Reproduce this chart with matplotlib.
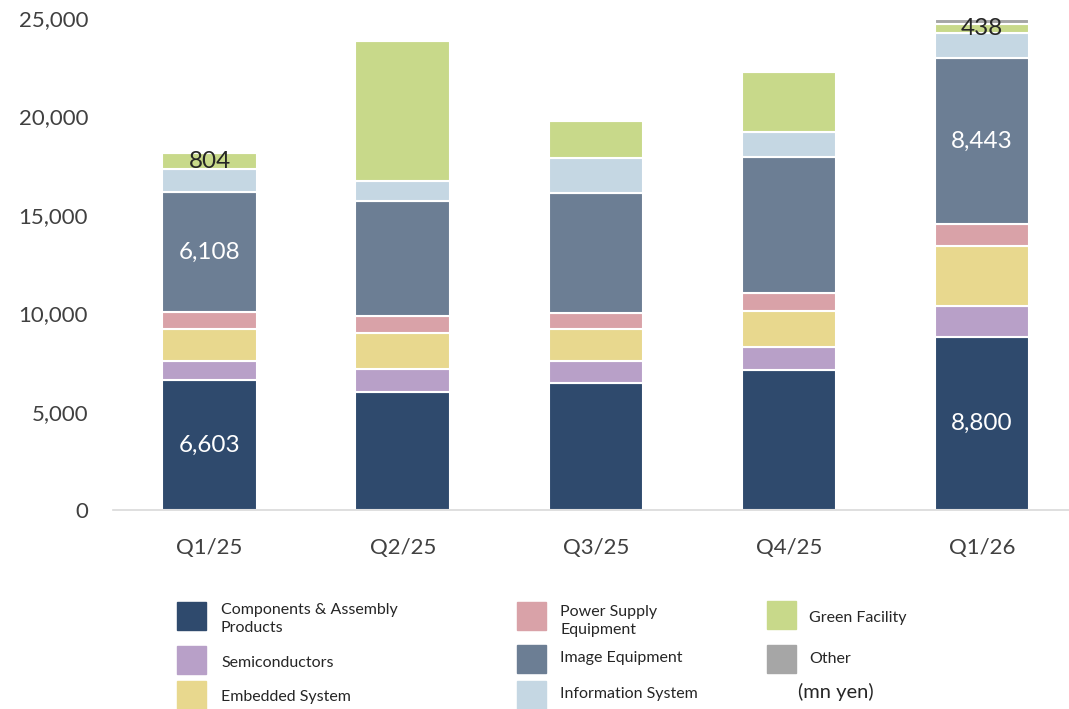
import matplotlib
matplotlib.use('Agg')
import matplotlib.pyplot as plt
from matplotlib.patches import Rectangle
import numpy as np

plt.rcParams['font.family'] = ['Lato', 'DejaVu Sans']

quarters = ['Q1/25', 'Q2/25', 'Q3/25', 'Q4/25', 'Q1/26']

# segment values (mn yen), bottom to top
components = [6603, 6000, 6450, 7110, 8800]
semiconductors = [970, 1160, 1120, 1170, 1570]
embedded = [1630, 1830, 1630, 1830, 3040]
power_supply = [860, 870, 810, 920, 1120]
image_equip = [6108, 5840, 6100, 6910, 8443]
info_system = [1160, 1020, 1780, 1260, 1270]
green_facility = [804, 7110, 1880, 3060, 438]
other = [0, 0, 0, 0, 250]

series = [
    ('Components & Assembly\nProducts', components, '#2F4A6D'),
    ('Semiconductors', semiconductors, '#B8A0C8'),
    ('Embedded System', embedded, '#E8D88E'),
    ('Power Supply\nEquipment', power_supply, '#D9A2A8'),
    ('Image Equipment', image_equip, '#6C7E94'),
    ('Information System', info_system, '#C5D7E3'),
    ('Green Facility', green_facility, '#C8D98A'),
    ('Other', other, '#A6A6A6'),
]

# which bars get value labels: (series index, bar index, text colour)
labelled = [(0, 0, 'white'), (4, 0, 'white'), (6, 0, '#262626'),
            (0, 4, 'white'), (4, 4, 'white'), (6, 4, '#262626')]

W, H = 1069, 709
fig = plt.figure(figsize=(W / 100, H / 100), dpi=100)
ax = fig.add_axes([113 / W, 1 - 510 / H, (1069 - 113) / W, (510 - 18) / H])

x = np.arange(len(quarters))
bottom = np.zeros(len(quarters))
bars_by_series = []
for name, vals, col in series:
    vals = np.array(vals, dtype=float)
    ax.bar(x, vals, 0.49, bottom=bottom, color=col, edgecolor='white',
           linewidth=1.5, clip_on=False)
    bars_by_series.append((vals, bottom.copy()))
    bottom += vals

for si, bi, tc in labelled:
    vals, bot = bars_by_series[si]
    ax.text(x[bi], bot[bi] + vals[bi] / 2, f'{int(vals[bi]):,}', ha='center',
            va='center', color=tc, fontsize=17.5)

ax.set_xlim(-0.5, 4.45)
ax.set_ylim(0, 25000)
ax.set_yticks(np.arange(0, 25001, 5000))
ax.yaxis.set_major_formatter(matplotlib.ticker.FuncFormatter(lambda v, p: f'{int(v):,}'))
ax.set_xticks(x)
ax.set_xticklabels(quarters)
for s in ['top', 'right', 'left']:
    ax.spines[s].set_visible(False)
ax.spines['bottom'].set_color('#D9D9D9')
ax.spines['bottom'].set_linewidth(1.2)
ax.tick_params(axis='y', length=0, pad=18, labelsize=16, labelcolor='#404040')
ax.tick_params(axis='x', length=0, pad=20, labelsize=16, labelcolor='#404040')

# legend drawn in pixel coordinates
lg = fig.add_axes([0, 0, 1, 1])
lg.set_xlim(0, W)
lg.set_ylim(H, 0)
lg.axis('off')
legend_pos = [(177, 602, 221, 619), (177, 646, 221, 663), (177, 681, 221, 697),
              (517, 602, 560, 621), (517, 645, 560, 658), (517, 681, 560, 694),
              (767, 601, 809, 618), (767, 645, 809, 659)]
for (name, vals, col), (px, py, tx, ty) in zip(series, legend_pos):
    lg.add_patch(Rectangle((px, py), 29, 28, color=col))
    lg.text(tx, ty, name, va='center', ha='left', fontsize=11.5, color='#262626',
            linespacing=1.45)
lg.text(798, 692, '(mn yen)', va='center', ha='left', fontsize=14.5, color='#262626')

fig.savefig('out.png', dpi=100)
